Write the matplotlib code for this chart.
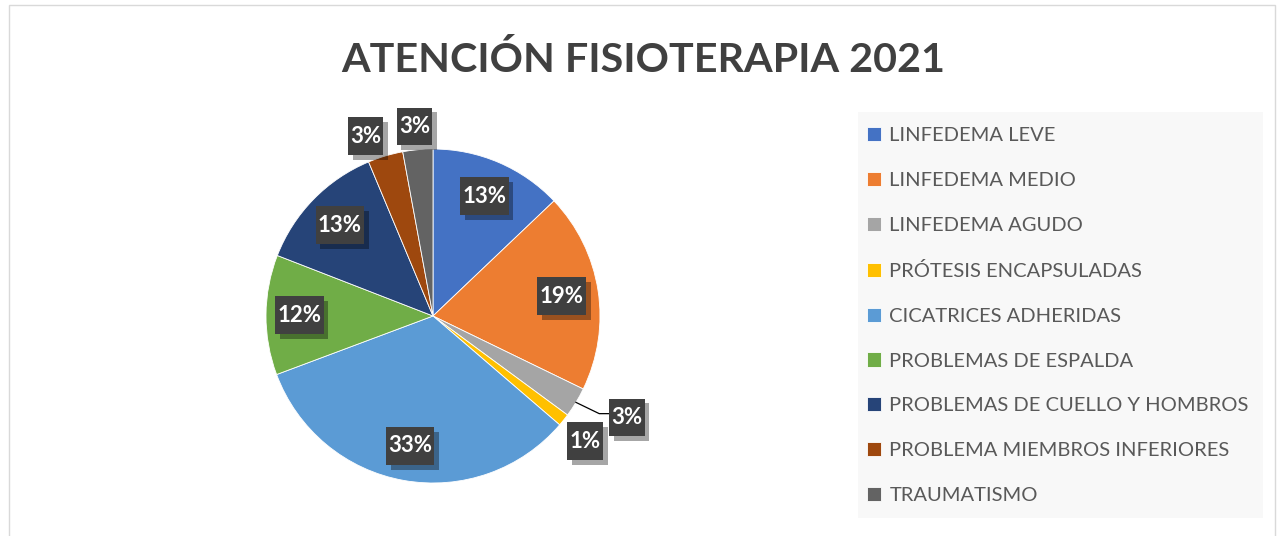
import numpy as np
import matplotlib
matplotlib.use('Agg')
import matplotlib.pyplot as plt
import matplotlib.patheffects as pe
from matplotlib.patches import Rectangle
from matplotlib.path import Path

# ---- data ----
title = "ATENCIÓN FISIOTERAPIA 2021"
categories = ["LINFEDEMA LEVE", "LINFEDEMA MEDIO", "LINFEDEMA AGUDO",
              "PRÓTESIS ENCAPSULADAS", "CICATRICES ADHERIDAS",
              "PROBLEMAS DE ESPALDA", "PROBLEMAS DE CUELLO Y HOMBROS",
              "PROBLEMA MIEMBROS INFERIORES", "TRAUMATISMO"]
values = [12.9, 19.3, 2.9, 1.2, 33.0, 11.6, 12.8, 3.4, 2.9]
colors = ["#4472C4", "#ED7D31", "#A5A5A5", "#FFC000", "#5B9BD5",
          "#70AD47", "#264478", "#9E480E", "#636363"]

plt.rcParams['font.family'] = ['Lato', 'DejaVu Sans']

W, H = 1283, 536
fig = plt.figure(figsize=(W / 100, H / 100), dpi=100)
fig.patch.set_facecolor('white')

# outer chart border
fig.add_artist(Rectangle((8.5 / W, -0.01), (1275 - 8.5) / W, 1.0, transform=fig.transFigure,
                         fill=False, ec='#d9d9d9', lw=1.0))

# title
fig.text(643 / W, 1 - 60 / H, title, ha='center', va='center', fontsize=29.7,
         fontweight='bold', color='#404040')

# pie axes
cx, cy, R = 433, 316, 167
k = 1.3
half = k * R
ax = fig.add_axes([(cx - half) / W, (H - cy - half) / H, 2 * half / W, 2 * half / H])

wedges, _ = ax.pie(values, colors=colors, startangle=90, counterclock=False, radius=1,
                   wedgeprops=dict(edgecolor='white', linewidth=0.6))
ax.set_xlim(-k, k)
ax.set_ylim(-k, k)
ax.set_aspect('equal')
ax.axis('off')


def label_box(x0, y0, width, height, mutation_size):
    px = 0.10 * mutation_size
    py = 0.38 * mutation_size
    x0, y0 = x0 - px, y0 - py
    x1, y1 = x0 + width + 2 * px, y0 + height + 2 * py
    return Path([(x0, y0), (x1, y0), (x1, y1), (x0, y1), (x0, y0)], closed=True)


label_r = [0.78, 0.78, 1.31, 1.18, 0.79, 0.80, 0.78, 1.15, 1.14]
label_dang = [0, 0, 3.5, -1.0, 0, 0, 0, 4, 0.4]
FS = 16

for i, (w, v) in enumerate(zip(wedges, values)):
    mid = np.deg2rad((w.theta1 + w.theta2) / 2 + label_dang[i])
    x, y = label_r[i] * np.cos(mid), label_r[i] * np.sin(mid)
    t = ax.text(x, y, f"{v:.0f}%", ha='center', va='center', fontsize=FS, fontweight='bold',
                color='white', bbox=dict(boxstyle=label_box, fc='#404040', ec='none'))
    t.get_bbox_patch().set_path_effects([
        pe.SimplePatchShadow(offset=(3.5, -3.5), shadow_rgbFace='black', alpha=0.35),
        pe.Normal()])
    if i == 2:
        m0 = np.deg2rad((w.theta1 + w.theta2) / 2)
        sx, sy = np.cos(m0), np.sin(m0)
        ax.plot([sx, x - 0.165, x - 0.10], [sy, y + 0.023, y + 0.023], color='black', lw=0.9)

# legend background
fig.add_artist(Rectangle((858 / W, 1 - 518 / H), (1263 - 858) / W, (518 - 112) / H,
                         transform=fig.transFigure, fc='#f8f8f8', ec='none', zorder=0))
fig.legend(wedges, categories, loc='upper left', bbox_to_anchor=(853 / W, 1 - 113 / H),
           frameon=False, fontsize=14.5, labelcolor='#595959', handlelength=0.7,
           handleheight=0.7, handletextpad=0.4, labelspacing=1.38, borderpad=0.2)

fig.savefig('out.png', dpi=100, facecolor='white')
